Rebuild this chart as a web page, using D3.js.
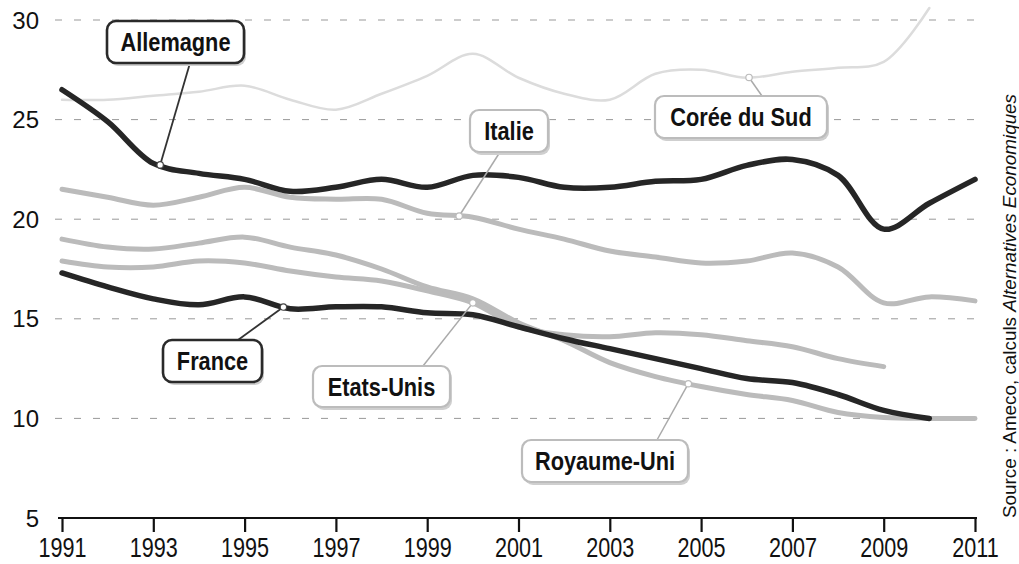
<!DOCTYPE html>
<html><head><meta charset="utf-8">
<script src="https://cdn.jsdelivr.net/npm/d3@7"></script>
<style>
html,body{margin:0;padding:0;background:#fff;}
svg{display:block;font-family:"Liberation Sans",Arial,sans-serif;}
</style></head><body>
<svg id="c" width="1019" height="564"></svg>
<script>
const years = [1991,1992,1993,1994,1995,1996,1997,1998,1999,2000,2001,2002,2003,2004,2005,2006,2007,2008,2009,2010,2011];
const allemagne = [26.5,24.9,22.8,22.3,22.0,21.4,21.6,22.0,21.6,22.2,22.1,21.6,21.6,21.9,22.0,22.7,23.0,22.2,19.5,20.8,22.0];
const coree = [26.0,26.0,26.2,26.4,26.7,26.0,25.5,26.3,27.2,28.3,27.1,26.3,26.0,27.3,27.5,27.1,27.4,27.6,27.9,30.6,null];
const italie = [21.5,21.1,20.7,21.1,21.6,21.1,21.0,21.0,20.3,20.1,19.5,19.0,18.4,18.1,17.8,17.9,18.3,17.6,15.8,16.1,15.9];
const royaumeUni = [19.0,18.6,18.5,18.8,19.1,18.6,18.2,17.5,16.6,16.0,14.8,13.9,12.8,12.1,11.6,11.2,10.9,10.3,10.05,10.0,10.0];
const etatsUnis = [17.9,17.6,17.6,17.9,17.8,17.4,17.1,16.9,16.4,15.8,14.6,14.2,14.1,14.3,14.2,13.9,13.6,13.0,12.6,null,null];
const france = [17.3,16.6,16.0,15.7,16.1,15.5,15.6,15.6,15.3,15.2,14.6,14.0,13.5,13.0,12.5,12.0,11.8,11.2,10.4,10.0,null];
const yTicks = [5,10,15,20,25,30];
const xTicks = [1991,1993,1995,1997,1999,2001,2003,2005,2007,2009,2011];
const sourceText = ["Source : Ameco, calculs ", "Alternatives Economiques"];

const svg = d3.select("#c");
const x = d3.scaleLinear().domain([1991,2011]).range([62,975]);
const y = d3.scaleLinear().domain([5,30]).range([518,20]);

// grid
svg.append("g").selectAll("line").data(yTicks.filter(v=>v>5)).join("line")
  .attr("x1",55).attr("x2",977).attr("y1",d=>y(d)).attr("y2",d=>y(d))
  .attr("stroke","#999").attr("stroke-width",1).attr("stroke-dasharray","7,12");

// y labels
svg.append("g").selectAll("text").data(yTicks).join("text")
  .attr("x",39).attr("y",d=>y(d)+8.5).attr("text-anchor","end")
  .attr("font-size",24).attr("fill","#111").text(d=>d);

// series
const series = [
  {name:"Corée du Sud", v:coree, color:"#dcdcdc", w:2.5},
  {name:"Italie", v:italie, color:"#bbbbbb", w:5},
  {name:"Royaume-Uni", v:royaumeUni, color:"#bbbbbb", w:5},
  {name:"Etats-Unis", v:etatsUnis, color:"#bbbbbb", w:5},
  {name:"France", v:france, color:"#262626", w:5.5},
  {name:"Allemagne", v:allemagne, color:"#262626", w:5.5}
];
const line = d3.line().defined(d=>d[1]!=null).x(d=>x(d[0])).y(d=>y(d[1])).curve(d3.curveCatmullRom.alpha(0.5));
svg.append("g").selectAll("path").data(series).join("path")
  .attr("d",s=>line(years.map((yr,i)=>[yr,s.v[i]])))
  .attr("fill","none").attr("stroke",s=>s.color).attr("stroke-width",s=>s.w)
  .attr("stroke-linejoin","round").attr("stroke-linecap","round");

// x axis
const ax = svg.append("g").attr("transform",`translate(0,${y(5)})`)
  .call(d3.axisBottom(x).tickValues(xTicks).tickFormat(d3.format("d")).tickSize(14).tickSizeOuter(0));
ax.select(".domain").attr("stroke","#111").attr("stroke-width",2.2).attr("d",`M${x(1991)-4},0H${x(2011)+2}`);
ax.selectAll(".tick line").attr("stroke","#111").attr("stroke-width",2.2);
ax.selectAll(".tick text").attr("font-size",27).attr("fill","#111").attr("y",0).attr("dy",0)
  .attr("font-family","'Liberation Sans',Arial,sans-serif")
  .attr("transform","translate(0,39) scale(0.8,1)");

// callouts
function valAt(arr, yr){
  const i = Math.floor(yr-1991), f = yr-1991-i;
  const a = arr[i], b = arr[Math.min(i+1,arr.length-1)];
  return b==null ? a : a + (b-a)*f;
}
const callouts = [
  {label:"Allemagne", arr:allemagne, yr:1993.15, bx:107, by:21, bw:137, bh:42, dark:true, px:190, py:63},
  {label:"France", arr:france, yr:1995.85, bx:163, by:340, bw:99, bh:42, dark:true, px:238, py:340},
  {label:"Italie", arr:italie, yr:1999.7, bx:470, by:110, bw:78, bh:42, dark:false, px:500, py:152},
  {label:"Corée du Sud", arr:coree, yr:2006.05, bx:655, by:96, bw:172, bh:42, dark:false, px:762, py:96},
  {label:"Etats-Unis", arr:etatsUnis, yr:2000.0, bx:313, by:366, bw:137, bh:41, dark:false, px:423, py:366},
  {label:"Royaume-Uni", arr:royaumeUni, yr:2004.72, bx:522, by:440, bw:166, bh:42, dark:false, px:657, py:440}
];
const cg = svg.append("g");
callouts.forEach(c=>{
  const ax_ = x(c.yr), ay_ = y(valAt(c.arr,c.yr));
  const col = c.dark ? "#2a2a2a" : "#bcbcbc";
  cg.append("line").attr("x1",c.px).attr("y1",c.py).attr("x2",ax_).attr("y2",ay_)
    .attr("stroke",c.dark?"#333":"#aaa").attr("stroke-width",c.dark?1.8:1.5);
  cg.append("circle").attr("cx",ax_).attr("cy",ay_).attr("r",3.2)
    .attr("fill","#fff").attr("stroke",c.dark?"#444":"#bbb").attr("stroke-width",1.2);
  cg.append("rect").attr("x",c.bx+2).attr("y",c.by+3).attr("width",c.bw).attr("height",c.bh)
    .attr("rx",9).attr("fill","#cfcfcf");
  cg.append("rect").attr("x",c.bx).attr("y",c.by).attr("width",c.bw).attr("height",c.bh)
    .attr("rx",9).attr("fill","#fff").attr("stroke",col).attr("stroke-width",c.dark?2.6:2.2);
  cg.append("text").attr("font-weight","bold").attr("font-size",25).attr("fill","#111")
    .attr("text-anchor","middle")
    .attr("transform",`translate(${c.bx+c.bw/2},${c.by+c.bh/2+9}) scale(0.87,1)`)
    .text(c.label);
});

// source
const st = svg.append("text").attr("font-size",18).attr("fill","#111")
  .attr("transform","translate(1016,518) rotate(-90)")
  .attr("textLength",424).attr("lengthAdjust","spacingAndGlyphs");
st.append("tspan").text(sourceText[0]);
st.append("tspan").attr("font-style","italic").text(sourceText[1]);
</script>
</body></html>
